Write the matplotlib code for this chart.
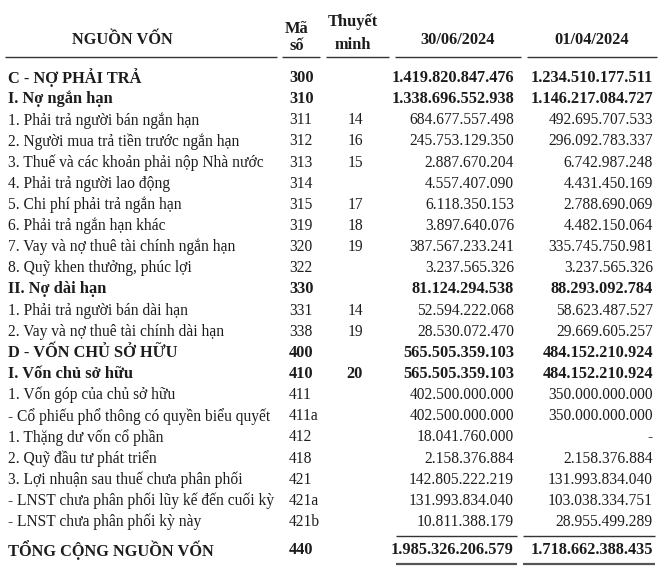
import matplotlib
matplotlib.use("Agg")
import matplotlib.pyplot as plt

# ---- data ----
labels = [
    "C - NỢ PHẢI TRẢ",
    "I. Nợ ngắn hạn",
    "1. Phải trả người bán ngắn hạn",
    "2. Người mua trả tiền trước ngắn hạn",
    "3. Thuế và các khoản phải nộp Nhà nước",
    "4. Phải trả người lao động",
    "5. Chi phí phải trả ngắn hạn",
    "6. Phải trả ngắn hạn khác",
    "7. Vay và nợ thuê tài chính ngắn hạn",
    "8. Quỹ khen thưởng, phúc lợi",
    "II. Nợ dài hạn",
    "1. Phải trả người bán dài hạn",
    "2. Vay và nợ thuê tài chính dài hạn",
    "D - VỐN CHỦ SỞ HỮU",
    "I. Vốn chủ sở hữu",
    "1. Vốn góp của chủ sở hữu",
    "- Cổ phiếu phổ thông có quyền biểu quyết",
    "1. Thặng dư vốn cổ phần",
    "2. Quỹ đầu tư phát triển",
    "3. Lợi nhuận sau thuế chưa phân phối",
    "- LNST chưa phân phối lũy kế đến cuối kỳ",
    "- LNST chưa phân phối kỳ này",
]
codes = ["300", "310", "311", "312", "313", "314", "315", "319", "320", "322",
         "330", "331", "338", "400", "410", "411", "411a", "412", "418", "421",
         "421a", "421b"]
notes = ["", "", "14", "16", "15", "", "17", "18", "19", "",
         "", "14", "19", "", "20", "", "", "", "", "",
         "", ""]
values_2024_06_30 = [
    "1.419.820.847.476", "1.338.696.552.938", "684.677.557.498", "245.753.129.350",
    "2.887.670.204", "4.557.407.090", "6.118.350.153", "3.897.640.076",
    "387.567.233.241", "3.237.565.326", "81.124.294.538", "52.594.222.068",
    "28.530.072.470", "565.505.359.103", "565.505.359.103", "402.500.000.000",
    "402.500.000.000", "18.041.760.000", "2.158.376.884", "142.805.222.219",
    "131.993.834.040", "10.811.388.179",
]
values_2024_04_01 = [
    "1.234.510.177.511", "1.146.217.084.727", "492.695.707.533", "296.092.783.337",
    "6.742.987.248", "4.431.450.169", "2.788.690.069", "4.482.150.064",
    "335.745.750.981", "3.237.565.326", "88.293.092.784", "58.623.487.527",
    "29.669.605.257", "484.152.210.924", "484.152.210.924", "350.000.000.000",
    "350.000.000.000", "-", "2.158.376.884", "131.993.834.040",
    "103.038.334.751", "28.955.499.289",
]
bold_rows = {0, 1, 10, 13, 14}
total_label = "TỔNG CỘNG NGUỒN VỐN"
total_code = "440"
total_values = ["1.985.326.206.579", "1.718.662.388.435"]
header_cols = ["NGUỒN VỐN", "Mã\nsố", "Thuyết\nminh", "30/06/2024", "01/04/2024"]

# ---- figure ----
W, H = 667, 574
fig = plt.figure(figsize=(W / 100, H / 100), dpi=100)
ax = fig.add_axes([0, 0, 1, 1])
ax.set_xlim(0, W)
ax.set_ylim(H, 0)
ax.axis("off")

FONT = "Liberation Serif"
FS = 11.2
FSB = 11.8
COL = "#1c1c1c"

x_label = 8
x_code = 289
x_note = 355
x_v1 = 514
x_v2 = 653


def put(x, y, s, ha, bold=False):
    ax.text(x, y, s, ha=ha, va="center", fontsize=FSB if bold else FS,
            fontweight="bold" if bold else "normal", family=FONT, color=COL)


# header
hy = 40
put(122, hy, header_cols[0], "center", True)
m1, m2 = header_cols[1].split("\n")
put(297, 29, m1, "center", True)
put(297, 46, m2, "center", True)
t1, t2 = header_cols[2].split("\n")
put(353, 22, t1, "center", True)
put(353, 45, t2, "center", True)
put(458, hy, header_cols[3], "center", True)
put(592, hy, header_cols[4], "center", True)

# header underline segments
for a, b in [(5, 277), (282, 320), (326, 389), (395, 521), (527, 657)]:
    ax.plot([a, b], [57, 57], color="#333333", lw=1.0, solid_capstyle="butt")

# rows
y0, dy = 78, 21.14
for i, lab in enumerate(labels):
    y = y0 + i * dy
    b = i in bold_rows
    put(x_label, y, lab, "left", b)
    put(x_code, y, codes[i], "left", b)
    if notes[i]:
        put(x_note, y, notes[i], "center", b)
    put(x_v1, y, values_2024_06_30[i], "right", b)
    put(x_v2, y, values_2024_04_01[i], "right", b)

# total
yt = 550
put(x_label, yt, total_label, "left", True)
put(x_code, yt, total_code, "left", True)
put(x_v1, yt, total_values[0], "right", True)
put(x_v2, yt, total_values[1], "right", True)

for a, b in [(396, 517), (523, 655)]:
    ax.plot([a, b], [536, 536], color="#333333", lw=1.0, solid_capstyle="butt")
    ax.plot([a, b], [564, 564], color="#555555", lw=1.6, solid_capstyle="butt")

fig.savefig("out.png", dpi=100, facecolor="white")
